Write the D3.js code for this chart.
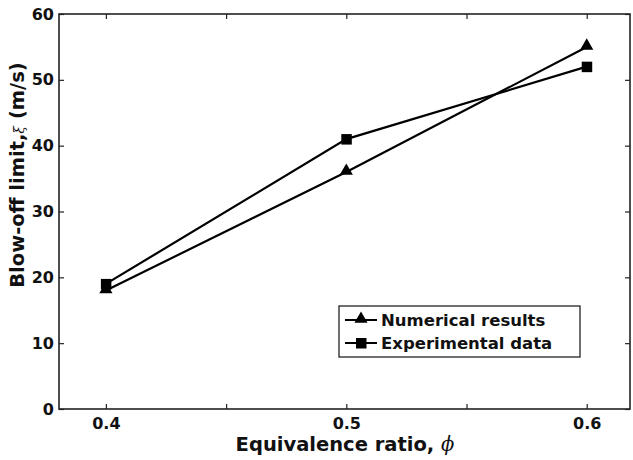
<!DOCTYPE html>
<html><head><meta charset="utf-8">
<script src="https://cdn.jsdelivr.net/npm/d3@7"></script>
<style>body{margin:0;background:#fff}svg{display:block}text{font-family:"DejaVu Sans",sans-serif;font-weight:bold}</style>
</head><body><svg id="c" width="633" height="460"></svg>
<script>
const phi = [0.4, 0.5, 0.6];
const numerical = [18, 36, 55];
const experimental = [19, 41, 52];
const xTicks = [0.4, 0.45, 0.5, 0.55, 0.6];
const xTickLabels = ["0.4", "", "0.5", "", "0.6"];
const yTicks = [0, 10, 20, 30, 40, 50, 60];

(function(){
const svg = d3.select("#c");
const L = 59, R = 630, T = 14, B = 409;
const x = d3.scaleLinear().domain([0.3805, 0.618]).range([L, R]);
const y = d3.scaleLinear().domain([0, 60]).range([B, T]);

const axB = d3.axisBottom(x).tickValues(xTicks).tickFormat((d,i)=>xTickLabels[i]).tickSizeInner(-5).tickSizeOuter(0).tickPadding(9);
const gb = svg.append("g").attr("transform", `translate(0,${B})`).call(axB);
const axT = d3.axisTop(x).tickValues(xTicks).tickFormat("").tickSizeInner(-5).tickSizeOuter(0);
const gt = svg.append("g").attr("transform", `translate(0,${T})`).call(axT);
const axL = d3.axisLeft(y).tickValues(yTicks).tickSizeInner(-5).tickSizeOuter(0).tickPadding(5);
const gl = svg.append("g").attr("transform", `translate(${L},0)`).call(axL);
const axR = d3.axisRight(y).tickValues(yTicks).tickFormat("").tickSizeInner(-5).tickSizeOuter(0);
const gr = svg.append("g").attr("transform", `translate(${R},0)`).call(axR);
[gb,gt,gl,gr].forEach(g=>{
  g.select(".domain").remove();
  g.selectAll("line").attr("stroke","#222").attr("stroke-width",1.2);
  g.selectAll("text").attr("font-size",16).attr("fill","#111").attr("font-family","DejaVu Sans, sans-serif").attr("font-weight","bold");
});
svg.append("rect").attr("x",L).attr("y",T).attr("width",R-L).attr("height",B-T)
  .attr("fill","none").attr("stroke","#222").attr("stroke-width",1.6);

const line = d3.line().x((d,i)=>x(phi[i])).y(d=>y(d));
svg.append("path").datum(numerical).attr("d",line).attr("fill","none").attr("stroke","#000").attr("stroke-width",2.2);
svg.append("path").datum(experimental).attr("d",line).attr("fill","none").attr("stroke","#000").attr("stroke-width",2.2);

const tri = d3.symbol().type(d3.symbolTriangle).size(75);
svg.selectAll(".tri").data(numerical).enter().append("path")
  .attr("transform",(d,i)=>`translate(${x(phi[i])},${y(d)-1})`).attr("d",tri).attr("fill","#000");
svg.selectAll(".sq").data(experimental).enter().append("rect")
  .attr("x",(d,i)=>x(phi[i])-5).attr("y",d=>y(d)-5).attr("width",10.5).attr("height",10.5).attr("fill","#000");

const lg = svg.append("g");
lg.append("rect").attr("x",339).attr("y",306).attr("width",241).attr("height",51).attr("fill","#fff").attr("stroke","#222").attr("stroke-width",1.3);
const entries = [{name:"Numerical results", m:"tri"},{name:"Experimental data", m:"sq"}];
entries.forEach((e,i)=>{
  const cy = 320 + i*23;
  lg.append("line").attr("x1",345).attr("x2",377).attr("y1",cy).attr("y2",cy).attr("stroke","#000").attr("stroke-width",2);
  if(e.m==="tri") lg.append("path").attr("transform",`translate(361,${cy-1})`).attr("d",tri).attr("fill","#000");
  else lg.append("rect").attr("x",356).attr("y",cy-5).attr("width",10.5).attr("height",10.5).attr("fill","#000");
  lg.append("text").attr("x",381).attr("y",cy+6).attr("font-size",16.5).attr("fill","#111").text(e.name);
});

const xt = svg.append("text").attr("x",345).attr("y",451).attr("text-anchor","middle").attr("font-size",19.5).attr("fill","#111");
xt.append("tspan").text("Equivalence ratio, ");
xt.append("tspan").attr("font-style","italic").attr("font-weight","normal").attr("font-family","DejaVu Serif, serif").text("\u03d5");
const yt = svg.append("text").attr("transform",`translate(24,175) rotate(-90)`).attr("text-anchor","middle").attr("font-size",19.5).attr("fill","#111");
yt.append("tspan").text("Blow-off limit,");
yt.append("tspan").attr("font-style","italic").attr("font-weight","normal").attr("font-size",14).attr("font-family","DejaVu Serif, serif").text("\u03be");
yt.append("tspan").text(" (m/s)");
})();
</script></body></html>
